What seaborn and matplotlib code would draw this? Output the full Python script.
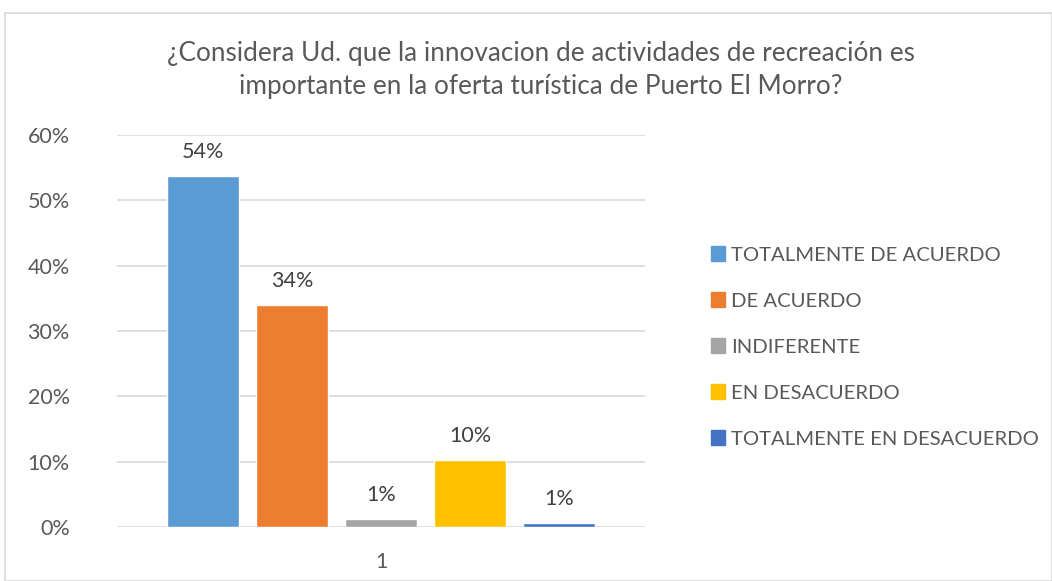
import matplotlib
matplotlib.use("Agg")
import matplotlib.pyplot as plt
import matplotlib.patches as mpatches
import pandas as pd
import seaborn as sns

# survey answers (share of respondents)
categories = ["TOTALMENTE DE ACUERDO", "DE ACUERDO", "INDIFERENTE",
              "EN DESACUERDO", "TOTALMENTE EN DESACUERDO"]
values = [0.537, 0.340, 0.012, 0.102, 0.006]
group = ["1"] * 5
colors = ["#5B9BD5", "#ED7D31", "#A5A5A5", "#FFC000", "#4472C4"]
yticks = [0, 0.1, 0.2, 0.3, 0.4, 0.5, 0.6]
title = ("¿Considera Ud. que la innovacion de actividades de recreación es\n"
         "importante en la oferta turística de Puerto El Morro?")

df = pd.DataFrame({"grupo": group, "respuesta": categories, "valor": values})

sns.set_theme(style="white")
plt.rcParams["font.family"] = ["Lato", "DejaVu Sans"]
text_gray = "#595959"

fig = plt.figure(figsize=(10.52, 5.81), dpi=100)
ax = fig.add_axes([117 / 1052, 1 - 527 / 581, 528 / 1052, 392 / 581])

sns.barplot(data=df, x="grupo", y="valor", hue="respuesta",
            hue_order=categories, palette=colors, width=0.843, gap=0.2,
            saturation=1, legend=False, ax=ax)

for cont, v in zip(ax.containers, values):
    ax.bar_label(cont, labels=[f"{v:.0%}"], padding=10, fontsize=15.5,
                 color="#404040")

ax.set_ylim(0, 0.6)
ax.set_yticks(yticks)
ax.set_yticklabels([f"{t:.0%}" for t in yticks])
ax.yaxis.grid(True, color="#D9D9D9", linewidth=1.2)
ax.set_axisbelow(True)
for s in ax.spines.values():
    s.set_visible(False)
ax.tick_params(axis="both", length=0, labelsize=15.5, labelcolor=text_gray)
ax.tick_params(axis="y", pad=34)
ax.tick_params(axis="x", pad=18)
ax.set_xlabel("")
ax.set_ylabel("")

handles = [mpatches.Patch(color=c) for c in colors]
fig.legend(handles, categories, loc="center left",
           bbox_to_anchor=(711 / 1052, 1 - 347 / 581), frameon=False,
           fontsize=14.6, labelcolor=text_gray, handlelength=0.7,
           handleheight=0.7, handletextpad=0.3, labelspacing=1.42,
           borderpad=0, borderaxespad=0)

fig.text(541 / 1052, 1 - 70 / 581, title, ha="center", va="center",
         fontsize=18.8, color=text_gray, linespacing=1.42)

# outer chart border
fig.patches.append(mpatches.Rectangle((5 / 1052, 0), 1 - 5 / 1052, 1 - 13 / 581,
                                      transform=fig.transFigure, fill=False,
                                      edgecolor="#D9D9D9", linewidth=1.2))

fig.savefig("out.png", dpi=100)
